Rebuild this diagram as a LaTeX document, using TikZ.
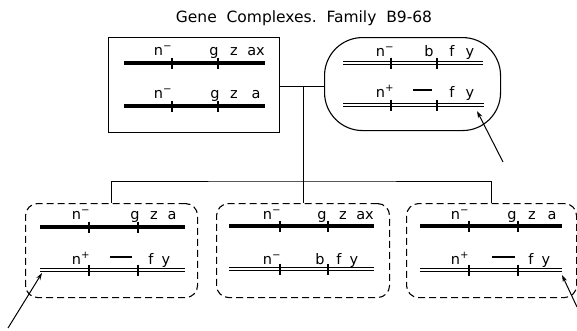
\documentclass[tikz,border=0pt]{standalone}
\usepackage{fontspec}
\setmainfont{DejaVu Sans}
\usetikzlibrary{arrows.meta}
\newcommand\supm{\textsuperscript{−}}
\newcommand\supp{\textsuperscript{+}}
\tikzset{
  solidbox/.style={draw, line width=1.1pt, inner sep=0pt, anchor=north west},
  roundbox/.style={solidbox, rounded corners=38pt},
  dashbox/.style={solidbox, dashed, dash pattern=on 7pt off 4pt, rounded corners=12pt},
  conn/.style={line width=1pt},
  thickbar/.style={line width=3.6pt},
  dblbar/.style={double, double distance=1.8pt, line width=0.8pt},
  tickmark/.style={line width=1.1pt},
  gap/.style={line width=1.3pt},
  lab/.style={anchor=base, inner sep=0pt, font=\fontsize{14.5}{14.5}\selectfont},
  ptr/.style={line width=1pt, -{Stealth[length=7pt,width=4.5pt]}},
}
\newcommand\chrthick[5]{%
  \draw[thickbar] (#1,#3) -- (#2,#3);
  \draw[tickmark] (#4,#3) ++(0,-5.5) -- ++(0,11);
  \draw[tickmark] (#5,#3) ++(0,-5.5) -- ++(0,11);}
\newcommand\chrdouble[5]{%
  \draw[dblbar] (#1,#3) -- (#2,#3);
  \draw[tickmark] (#4,#3) ++(0,-5.5) -- ++(0,11);
  \draw[tickmark] (#5,#3) ++(0,-5.5) -- ++(0,11);}
\begin{document}
\begin{tikzpicture}[x=1pt,y=-1pt]
\useasboundingbox (0,0) rectangle (577,330);
\node[anchor=base, inner sep=0pt, font=\fontsize{15.5}{15.5}\selectfont] (title) at (304,22) {Gene\ \ Complexes.\ \ Family\ \ B9-68};

% boxes
\node[solidbox, minimum width=171pt, minimum height=95pt] (tl) at (108,37) {};
\node[roundbox, minimum width=176pt, minimum height=93pt] (tr) at (324,37) {};
\node[dashbox, minimum width=172pt, minimum height=94pt] (bl) at (25,203) {};
\node[dashbox, minimum width=173pt, minimum height=94pt] (bm) at (216,203) {};
\node[dashbox, minimum width=170pt, minimum height=94pt] (br) at (406,203) {};

% connectors
\coordinate (j1) at (303,86);
\coordinate (j2) at (303,181);
\draw[conn] (tl.east |- j1) -- (tr.west |- j1);
\draw[conn] (j1) -- (j2);
\draw[conn] (bl.north) |- (j2) -| (br.north);
\draw[conn] (j2) -- (bm.north -| j2);

% top left box
\chrthick{124}{265}{63}{172}{218}
\chrthick{124}{265}{106}{172}{218}
\node[lab] (tl1a) at (163,55) {n\supm};
\node[lab] (tl1b) at (214,55) {g};
\node[lab] (tl1c) at (234,55) {z};
\node[lab] (tl1d) at (256,55) {ax};
\node[lab] (tl2a) at (163,98) {n\supm};
\node[lab] (tl2b) at (215,98) {g};
\node[lab] (tl2c) at (234,98) {z};
\node[lab] (tl2d) at (256,98) {a};

% top right box
\chrdouble{343}{483}{63}{391}{437}
\chrdouble{343}{484}{105}{391}{437}
\node[lab] (tr1a) at (385,56) {n\supm};
\node[lab] (tr1b) at (429,56) {b};
\node[lab] (tr1c) at (452,56) {f};
\node[lab] (tr1d) at (470,56) {y};
\node[lab] (tr2a) at (385,97) {n\supp};
\draw[gap] (413,90) -- (432,90);
\node[lab] (tr2c) at (452,97) {f};
\node[lab] (tr2d) at (470,97) {y};
\coordinate (a1) at (503,162);
\coordinate (a1e) at (477,111);
\draw[ptr] (a1) -- (a1e);

% bottom left box
\chrthick{40}{185}{227}{89}{138}
\chrdouble{40}{185}{270}{89}{138}
\node[lab] (bl1a) at (81,219) {n\supm};
\node[lab] (bl1b) at (135,219) {g};
\node[lab] (bl1c) at (154,219) {z};
\node[lab] (bl1d) at (172,219) {a};
\node[lab] (bl2a) at (81,264) {n\supp};
\draw[gap] (110,257) -- (132,257);
\node[lab] (bl2c) at (151,264) {f};
\node[lab] (bl2d) at (166,264) {y};
\coordinate (a2) at (8,328);
\coordinate (a2e) at (42,273);
\draw[ptr] (a2) -- (a2e);

% bottom middle box
\chrthick{229}{374}{226}{280}{328}
\chrdouble{229}{374}{269}{280}{328}
\node[lab] (bm1a) at (272,219) {n\supm};
\node[lab] (bm1b) at (322,219) {g};
\node[lab] (bm1c) at (343,219) {z};
\node[lab] (bm1d) at (365,219) {ax};
\node[lab] (bm2a) at (272,264) {n\supm};
\node[lab] (bm2b) at (320,264) {b};
\node[lab] (bm2c) at (339,264) {f};
\node[lab] (bm2d) at (354,264) {y};

% bottom right box
\chrthick{420}{562}{226}{469}{518}
\chrdouble{420}{562}{270}{469}{518}
\node[lab] (br1a) at (460,219) {n\supm};
\node[lab] (br1b) at (512,219) {g};
\node[lab] (br1c) at (532,219) {z};
\node[lab] (br1d) at (552,219) {a};
\node[lab] (br2a) at (460,264) {n\supp};
\draw[gap] (492,257) -- (515,257);
\node[lab] (br2c) at (531,264) {f};
\node[lab] (br2d) at (546,264) {y};
\coordinate (a3) at (577,307);
\coordinate (a3e) at (562,275);
\draw[ptr] (a3) -- (a3e);
\end{tikzpicture}
\end{document}
